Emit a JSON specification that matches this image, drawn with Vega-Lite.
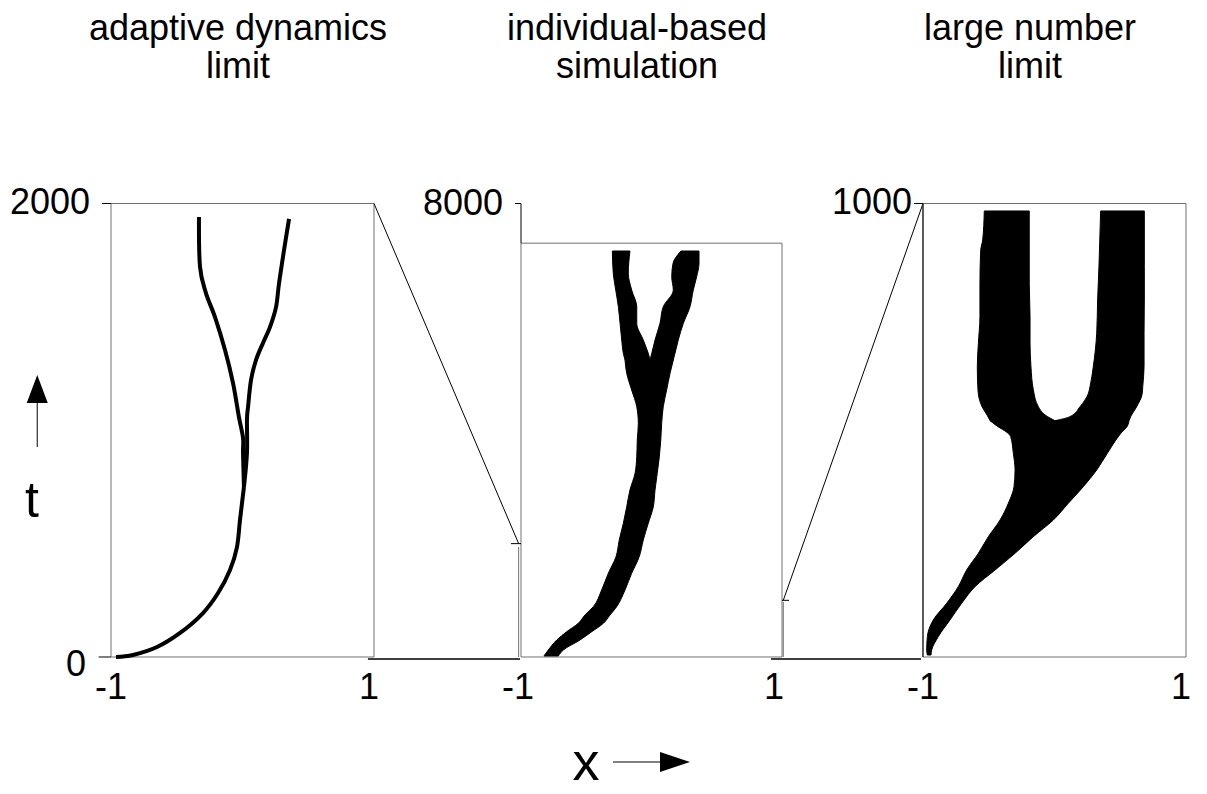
{
"$schema": "https://vega.github.io/schema/vega-lite/v6.json",
"width": 1207, "height": 794, "padding": 0,
"autosize": {"type": "none"},
"config": {"view": {"stroke": null}, "text": {"font": "Liberation Sans", "fontSize": 36, "color": "black"}},
"resolve": {"scale": {"x": "independent", "y": "independent"}},
"layer": [
{
 "encoding": {
  "x": {"field": "x", "type": "quantitative", "scale": {"domain": [-1.8441, 7.3346], "nice": false, "zero": false}, "axis": null, "stack": null},
  "y": {"field": "t", "type": "quantitative", "scale": {"domain": [-604.19, 2897.46], "nice": false, "zero": false}, "axis": null}
 },
 "layer": [
  {"data": {"values": [{"x": -1, "x2": 1, "t": 0, "t2": 2000}]},
   "mark": {"type": "rect", "filled": false, "stroke": "#707070", "strokeWidth": 1},
   "encoding": {"x2": {"field": "x2"}, "y2": {"field": "t2"}}},
  {"data": {"values": [
    {"x": -1.068, "x2": -1, "t": 2000, "t2": 2000},
    {"x": -1.094, "x2": -1, "t": 0, "t2": 0},
    {"x": 1, "x2": 2.1, "t": 2000, "t2": 500},
    {"x": -1.561, "x2": -1.561, "t": 926, "t2": 1120}]},
   "mark": {"type": "rule", "color": "black", "strokeWidth": 1},
   "encoding": {"x2": {"field": "x2"}, "y2": {"field": "t2"}}},
  {"data": {"values": [{"x": 0.954, "x2": 2.11, "t": -8.8, "t2": -8.8}]},
   "mark": {"type": "rule", "color": "black", "strokeWidth": 1.5},
   "encoding": {"x2": {"field": "x2"}, "y2": {"field": "t2"}}},
  {"data": {"values": [
    {"part": "trunk", "x": -0.962, "t": 0}, {"part": "trunk", "x": -0.833, "t": 8.8}, {"part": "trunk", "x": -0.650, "t": 44},
    {"part": "trunk", "x": -0.475, "t": 106}, {"part": "trunk", "x": -0.300, "t": 194}, {"part": "trunk", "x": -0.186, "t": 282},
    {"part": "trunk", "x": -0.095, "t": 384}, {"part": "trunk", "x": -0.042, "t": 485}, {"part": "trunk", "x": -0.019, "t": 604},
    {"part": "trunk", "x": 0.011, "t": 750},
    {"part": "left", "x": 0.011, "t": 750}, {"part": "left", "x": 0.004, "t": 900}, {"part": "left", "x": 0.004, "t": 966},
    {"part": "left", "x": -0.027, "t": 1058}, {"part": "left", "x": -0.072, "t": 1208}, {"part": "left", "x": -0.133, "t": 1354},
    {"part": "left", "x": -0.209, "t": 1499}, {"part": "left", "x": -0.278, "t": 1605}, {"part": "left", "x": -0.323, "t": 1720},
    {"part": "left", "x": -0.331, "t": 1940},
    {"part": "right", "x": 0.011, "t": 750}, {"part": "right", "x": 0.034, "t": 900}, {"part": "right", "x": 0.034, "t": 1045},
    {"part": "right", "x": 0.042, "t": 1102}, {"part": "right", "x": 0.065, "t": 1222}, {"part": "right", "x": 0.103, "t": 1310},
    {"part": "right", "x": 0.156, "t": 1385}, {"part": "right", "x": 0.209, "t": 1455}, {"part": "right", "x": 0.255, "t": 1543},
    {"part": "right", "x": 0.278, "t": 1649}, {"part": "right", "x": 0.316, "t": 1795}, {"part": "right", "x": 0.354, "t": 1932}]},
   "mark": {"type": "line", "color": "black", "strokeWidth": 4, "strokeJoin": "round", "interpolate": "cardinal"},
   "encoding": {"detail": {"field": "part"}, "order": {"field": "t", "type": "quantitative"}}},
  {"data": {"values": [{"x": -1.561, "t": 1182}]},
   "mark": {"type": "point", "shape": "M0,-1L0.75,1L-0.75,1Z", "size": 784, "filled": true, "color": "black", "opacity": 1, "strokeWidth": 0}},
  {"data": {"values": [{"label": "adaptive dynamics", "x": -0.034, "t": 2723}, {"label": "limit", "x": -0.034, "t": 2553}]},
   "mark": {"type": "text", "align": "center", "baseline": "alphabetic"},
   "encoding": {"text": {"field": "label"}}},
  {"data": {"values": [{"label": "2000", "x": -1, "t": 2000}]},
   "mark": {"type": "text", "align": "right", "baseline": "middle", "dx": -21},
   "encoding": {"text": {"field": "label"}}},
  {"data": {"values": [{"label": "0", "x": -1, "t": 0}]},
   "mark": {"type": "text", "align": "right", "baseline": "middle", "dx": -25, "dy": 8},
   "encoding": {"text": {"field": "label"}}},
  {"data": {"values": [{"label": "-1", "x": -1, "t": 0}]},
   "mark": {"type": "text", "align": "center", "baseline": "middle", "dy": 31},
   "encoding": {"text": {"field": "label"}}},
  {"data": {"values": [{"label": "1", "x": 1, "t": 0}]},
   "mark": {"type": "text", "align": "center", "baseline": "middle", "dy": 31, "dx": -5},
   "encoding": {"text": {"field": "label"}}},
  {"data": {"values": [{"label": "t", "x": -1.601, "t": 617}]},
   "mark": {"type": "text", "align": "center", "baseline": "alphabetic", "fontSize": 50},
   "encoding": {"text": {"field": "label"}}}
 ]
},
{
 "encoding": {
  "x": {"field": "x", "type": "quantitative", "scale": {"domain": [-4.99234, 4.2567], "nice": false, "zero": false}, "axis": null, "stack": null},
  "y": {"field": "t", "type": "quantitative", "scale": {"domain": [-2416.76, 11589.86], "nice": false, "zero": false}, "axis": null}
 },
 "layer": [
  {"data": {"values": [{"x": -1, "x2": 1, "t": 0, "t2": 7300}]},
   "mark": {"type": "rect", "filled": false, "stroke": "#707070", "strokeWidth": 1},
   "encoding": {"x2": {"field": "x2"}, "y2": {"field": "t2"}}},
  {"data": {"values": [
    {"x": -1.018, "x2": -1.018, "t": 0, "t2": 1940},
    {"x": 1.01, "x2": 1.01, "t": 0, "t2": 970}]},
   "mark": {"type": "rule", "color": "#707070", "strokeWidth": 1},
   "encoding": {"x2": {"field": "x2"}, "y2": {"field": "t2"}}},
  {"data": {"values": [
    {"x": -1.046, "x2": -1, "t": 8000, "t2": 8000},
    {"x": -1, "x2": -1, "t": 7300, "t2": 8000},
    {"x": -1.077, "x2": -1, "t": 2000, "t2": 2000},
    {"x": 1, "x2": 1.054, "t": 1000, "t2": 1000},
    {"x": 1.01, "x2": 2.0805, "t": 1000, "t2": 8000},
    {"x": -0.295, "x2": 0.065, "t": -1852, "t2": -1852}]},
   "mark": {"type": "rule", "color": "black", "strokeWidth": 1},
   "encoding": {"x2": {"field": "x2"}, "y2": {"field": "t2"}}},
  {"data": {"values": [{"x": 0.916, "x2": 2.065, "t": -35.3, "t2": -35.3}]},
   "mark": {"type": "rule", "color": "black", "strokeWidth": 1.5},
   "encoding": {"x2": {"field": "x2"}, "y2": {"field": "t2"}}},
  {"data": {"values": [
    {"part": "trunk", "t": 18, "x": -0.824, "x2": -0.714},
    {"part": "trunk", "t": 123, "x": -0.791, "x2": -0.676},
    {"part": "trunk", "t": 300, "x": -0.726, "x2": -0.548},
    {"part": "trunk", "t": 446, "x": -0.650, "x2": -0.458},
    {"part": "trunk", "t": 594, "x": -0.561, "x2": -0.369},
    {"part": "trunk", "t": 741, "x": -0.510, "x2": -0.318},
    {"part": "trunk", "t": 887, "x": -0.446, "x2": -0.267},
    {"part": "trunk", "t": 1182, "x": -0.382, "x2": -0.203},
    {"part": "trunk", "t": 1476, "x": -0.331, "x2": -0.152},
    {"part": "trunk", "t": 1769, "x": -0.272, "x2": -0.094},
    {"part": "trunk", "t": 2064, "x": -0.247, "x2": -0.063},
    {"part": "trunk", "t": 2358, "x": -0.216, "x2": -0.025},
    {"part": "trunk", "t": 2651, "x": -0.190, "x2": 0.014},
    {"part": "trunk", "t": 2946, "x": -0.165, "x2": 0.027},
    {"part": "trunk", "t": 3240, "x": -0.126, "x2": 0.044},
    {"part": "trunk", "t": 3533, "x": -0.113, "x2": 0.060},
    {"part": "trunk", "t": 3828, "x": -0.109, "x2": 0.071},
    {"part": "trunk", "t": 4122, "x": -0.101, "x2": 0.078},
    {"part": "trunk", "t": 4415, "x": -0.113, "x2": 0.090},
    {"part": "trunk", "t": 4710, "x": -0.152, "x2": 0.116},
    {"part": "trunk", "t": 5004, "x": -0.190, "x2": 0.142},
    {"part": "trunk", "t": 5239, "x": -0.203, "x2": 0.167},
    {"part": "left", "t": 5239, "x": -0.203, "x2": -0.011},
    {"part": "left", "t": 5357, "x": -0.216, "x2": -0.025},
    {"part": "left", "t": 5592, "x": -0.228, "x2": -0.063},
    {"part": "left", "t": 5886, "x": -0.241, "x2": -0.113},
    {"part": "left", "t": 6179, "x": -0.254, "x2": -0.113},
    {"part": "left", "t": 6474, "x": -0.274, "x2": -0.152},
    {"part": "left", "t": 6769, "x": -0.293, "x2": -0.178},
    {"part": "left", "t": 7162, "x": -0.300, "x2": -0.165},
    {"part": "right", "t": 5239, "x": -0.011, "x2": 0.167},
    {"part": "right", "t": 5357, "x": 0.002, "x2": 0.180},
    {"part": "right", "t": 5592, "x": 0.027, "x2": 0.205},
    {"part": "right", "t": 5886, "x": 0.065, "x2": 0.244},
    {"part": "right", "t": 6179, "x": 0.090, "x2": 0.295},
    {"part": "right", "t": 6474, "x": 0.167, "x2": 0.320},
    {"part": "right", "t": 6708, "x": 0.155, "x2": 0.346},
    {"part": "right", "t": 6945, "x": 0.165, "x2": 0.364},
    {"part": "right", "t": 7162, "x": 0.226, "x2": 0.364}]},
   "mark": {"type": "area", "orient": "horizontal", "color": "black", "opacity": 1, "stroke": "black", "strokeWidth": 1, "interpolate": "monotone"},
   "encoding": {"x2": {"field": "x2"}, "detail": {"field": "part"}}},
  {"data": {"values": [{"x": 0.180, "t": -1852}]},
   "mark": {"type": "point", "shape": "M1,0L-1,0.67L-1,-0.67Z", "size": 900, "filled": true, "color": "black", "opacity": 1, "strokeWidth": 0}},
  {"data": {"values": [{"label": "individual-based", "x": -0.111, "t": 10893}, {"label": "simulation", "x": -0.111, "t": 10214}]},
   "mark": {"type": "text", "align": "center", "baseline": "alphabetic"},
   "encoding": {"text": {"field": "label"}}},
  {"data": {"values": [{"label": "8000", "x": -1, "t": 8000}]},
   "mark": {"type": "text", "align": "right", "baseline": "middle", "dx": -18},
   "encoding": {"text": {"field": "label"}}},
  {"data": {"values": [{"label": "-1", "x": -1, "t": 0}]},
   "mark": {"type": "text", "align": "center", "baseline": "middle", "dy": 31, "dx": -3},
   "encoding": {"text": {"field": "label"}}},
  {"data": {"values": [{"label": "1", "x": 1, "t": 0}]},
   "mark": {"type": "text", "align": "center", "baseline": "middle", "dy": 31, "dx": -8},
   "encoding": {"text": {"field": "label"}}},
  {"data": {"values": [{"label": "x", "x": -0.502, "t": -2170}]},
   "mark": {"type": "text", "align": "center", "baseline": "alphabetic", "fontSize": 54},
   "encoding": {"text": {"field": "label"}}}
 ]
},
{
 "encoding": {
  "x": {"field": "x", "type": "quantitative", "scale": {"domain": [-8.01901, 1.1597], "nice": false, "zero": false}, "axis": null, "stack": null},
  "y": {"field": "t", "type": "quantitative", "scale": {"domain": [-302.09, 1448.73], "nice": false, "zero": false}, "axis": null}
 },
 "layer": [
  {"data": {"values": [{"x": -1, "x2": 1, "t": 0, "t2": 1000}]},
   "mark": {"type": "rect", "filled": false, "stroke": "#707070", "strokeWidth": 1},
   "encoding": {"x2": {"field": "x2"}, "y2": {"field": "t2"}}},
  {"data": {"values": [
    {"x": -1, "x2": -1, "t": 0, "t2": 1000},
    {"x": -1.068, "x2": -1, "t": 1000, "t2": 1000}]},
   "mark": {"type": "rule", "color": "black", "strokeWidth": 1},
   "encoding": {"x2": {"field": "x2"}, "y2": {"field": "t2"}}},
  {"data": {"values": [
    {"part": "left", "t": 983.5, "x": -0.534, "x2": -0.192},
    {"part": "left", "t": 919.5, "x": -0.546, "x2": -0.192},
    {"part": "left", "t": 897.5, "x": -0.561, "x2": -0.192},
    {"part": "left", "t": 824.0, "x": -0.567, "x2": -0.192},
    {"part": "left", "t": 750.4, "x": -0.567, "x2": -0.186},
    {"part": "left", "t": 691.7, "x": -0.579, "x2": -0.186},
    {"part": "left", "t": 640.1, "x": -0.587, "x2": -0.179},
    {"part": "left", "t": 589.4, "x": -0.582, "x2": -0.161},
    {"part": "left", "t": 552.0, "x": -0.551, "x2": -0.123},
    {"part": "left", "t": 533.7, "x": -0.513, "x2": -0.072},
    {"part": "left", "t": 521.1, "x": -0.490, "x2": 0.004},
    {"part": "right", "t": 983.5, "x": 0.351, "x2": 0.683},
    {"part": "right", "t": 860.7, "x": 0.338, "x2": 0.683},
    {"part": "right", "t": 787.2, "x": 0.328, "x2": 0.683},
    {"part": "right", "t": 713.8, "x": 0.321, "x2": 0.681},
    {"part": "right", "t": 640.1, "x": 0.295, "x2": 0.681},
    {"part": "right", "t": 596.0, "x": 0.270, "x2": 0.671},
    {"part": "right", "t": 580.7, "x": 0.257, "x2": 0.667},
    {"part": "right", "t": 552.0, "x": 0.194, "x2": 0.625},
    {"part": "right", "t": 530.0, "x": 0.118, "x2": 0.579},
    {"part": "right", "t": 521.1, "x": 0.004, "x2": 0.567},
    {"part": "trunk", "t": 521.1, "x": -0.490, "x2": 0.567},
    {"part": "trunk", "t": 505.0, "x": -0.414, "x2": 0.544},
    {"part": "trunk", "t": 498.4, "x": -0.376, "x2": 0.520},
    {"part": "trunk", "t": 485.8, "x": -0.333, "x2": 0.485},
    {"part": "trunk", "t": 449.2, "x": -0.313, "x2": 0.402},
    {"part": "trunk", "t": 412.4, "x": -0.300, "x2": 0.321},
    {"part": "trunk", "t": 375.5, "x": -0.308, "x2": 0.219},
    {"part": "trunk", "t": 338.9, "x": -0.351, "x2": 0.105},
    {"part": "trunk", "t": 302.1, "x": -0.414, "x2": -0.009},
    {"part": "trunk", "t": 265.3, "x": -0.503, "x2": -0.161},
    {"part": "trunk", "t": 228.7, "x": -0.579, "x2": -0.300},
    {"part": "trunk", "t": 191.8, "x": -0.668, "x2": -0.452},
    {"part": "trunk", "t": 155.0, "x": -0.732, "x2": -0.605},
    {"part": "trunk", "t": 118.4, "x": -0.820, "x2": -0.706},
    {"part": "trunk", "t": 81.6, "x": -0.922, "x2": -0.795},
    {"part": "trunk", "t": 44.8, "x": -0.967, "x2": -0.884},
    {"part": "trunk", "t": 15.4, "x": -0.972, "x2": -0.934},
    {"part": "trunk", "t": 4.4, "x": -0.967, "x2": -0.939}]},
   "mark": {"type": "area", "orient": "horizontal", "color": "black", "opacity": 1, "stroke": "black", "strokeWidth": 1, "interpolate": "monotone"},
   "encoding": {"x2": {"field": "x2"}, "detail": {"field": "part"}}},
  {"data": {"values": [{"label": "large number", "x": -0.186, "t": 1361.6}, {"label": "limit", "x": -0.186, "t": 1276.7}]},
   "mark": {"type": "text", "align": "center", "baseline": "alphabetic"},
   "encoding": {"text": {"field": "label"}}},
  {"data": {"values": [{"label": "1000", "x": -1, "t": 1000}]},
   "mark": {"type": "text", "align": "right", "baseline": "middle", "dx": -11},
   "encoding": {"text": {"field": "label"}}},
  {"data": {"values": [{"label": "-1", "x": -1, "t": 0}]},
   "mark": {"type": "text", "align": "center", "baseline": "middle", "dy": 31},
   "encoding": {"text": {"field": "label"}}},
  {"data": {"values": [{"label": "1", "x": 1, "t": 0}]},
   "mark": {"type": "text", "align": "center", "baseline": "middle", "dy": 31, "dx": -5},
   "encoding": {"text": {"field": "label"}}}
 ]
}
]
}
